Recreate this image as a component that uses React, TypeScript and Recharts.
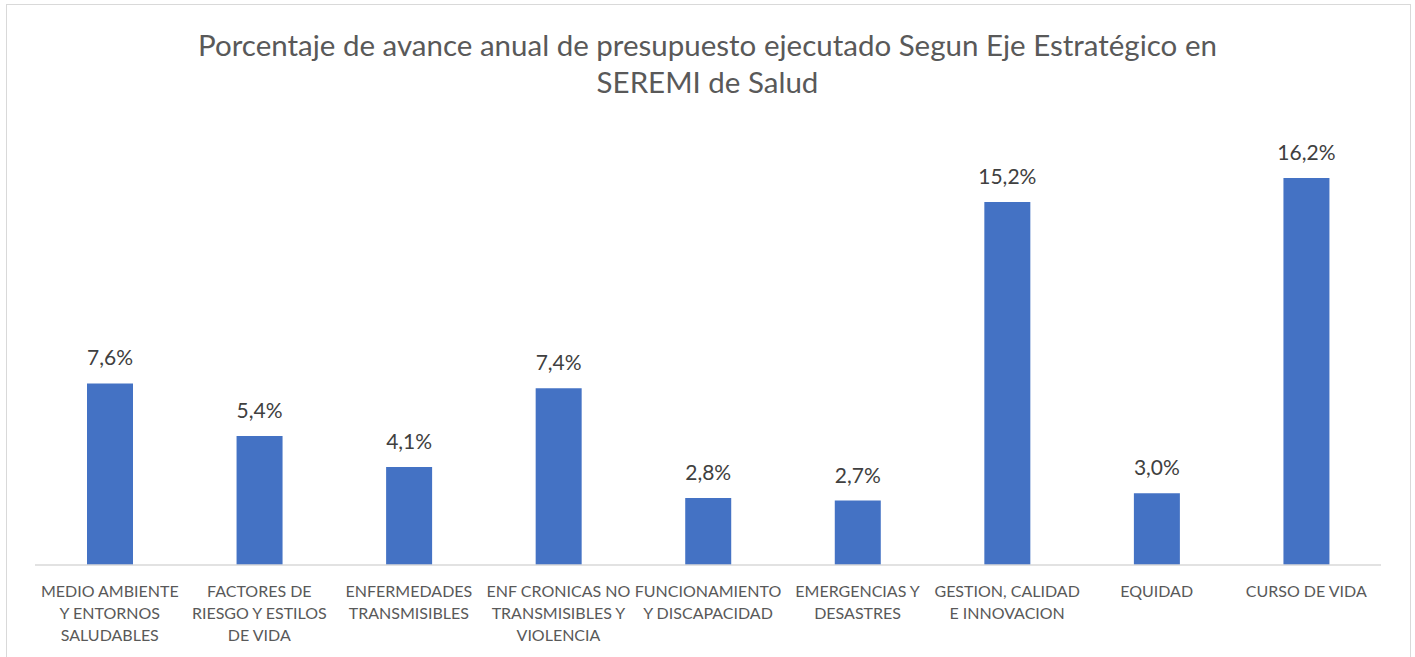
import { BarChart, Bar, XAxis, YAxis, LabelList } from "recharts"

const categories = [
    "MEDIO AMBIENTE\nY ENTORNOS\nSALUDABLES",
    "FACTORES DE\nRIESGO Y ESTILOS\nDE VIDA",
    "ENFERMEDADES\nTRANSMISIBLES",
    "ENF CRONICAS NO\nTRANSMISIBLES Y\nVIOLENCIA",
    "FUNCIONAMIENTO\nY DISCAPACIDAD",
    "EMERGENCIAS Y\nDESASTRES",
    "GESTION, CALIDAD\nE INNOVACION",
    "EQUIDAD",
    "CURSO DE VIDA",
]
const values = [7.6, 5.4, 4.1, 7.4, 2.8, 2.7, 15.2, 3.0, 16.2]

const data = categories.map((name, i) => ({ name, value: values[i] }))

const font = "Lato, 'Open Sans', sans-serif"

const Tick = (props: any) => {
    const { x, y, payload } = props
    const lines = String(payload.value).split("\n")
    return (
        <g transform={`translate(${x},${y})`}>
            {lines.map((l: string, i: number) => (
                <text key={i} x={0} y={24 + i * 22} textAnchor="middle" fill="#595959" fontSize={16} fontFamily={font}>
                    {l}
                </text>
            ))}
        </g>
    )
}

export default function App() {
    return (
        <div style={{ position: "absolute", left: 0, top: 0, width: 1415, height: 657, background: "#fff", overflow: "hidden" }}>
            <div style={{ position: "absolute", left: 6, top: 4, width: 1403, height: 700, border: "1px solid #d9d9d9" }} />
            <div
                style={{
                    position: "absolute",
                    left: 0,
                    top: 26,
                    width: 1415,
                    textAlign: "center",
                    fontFamily: font,
                    fontSize: 29.5,
                    lineHeight: "37px",
                    color: "#595959",
                }}
            >
                Porcentaje de avance anual de presupuesto ejecutado Segun Eje Estratégico en
                <br />
                SEREMI de Salud
            </div>
            <div style={{ position: "absolute", left: 0, top: 0 }}>
                <BarChart width={1415} height={657} data={data} margin={{ top: 135, right: 34, left: 35, bottom: 0 }} barCategoryGap={0}>
                    <XAxis
                        dataKey="name"
                        interval={0}
                        height={92}
                        tickLine={false}
                        axisLine={{ stroke: "#d9d9d9", strokeWidth: 1.5 }}
                        tick={<Tick />}
                    />
                    <YAxis hide domain={[0, 18]} />
                    <Bar dataKey="value" fill="#4472C4" barSize={46} isAnimationActive={false}>
                        <LabelList
                            dataKey="value"
                            position="top"
                            offset={18}
                            fill="#404040"
                            fontSize={21}
                            fontFamily={font}
                            formatter={(v: any) => `${Number(v).toFixed(1).replace(".", ",")}%`}
                        />
                    </Bar>
                </BarChart>
            </div>
        </div>
    )
}
